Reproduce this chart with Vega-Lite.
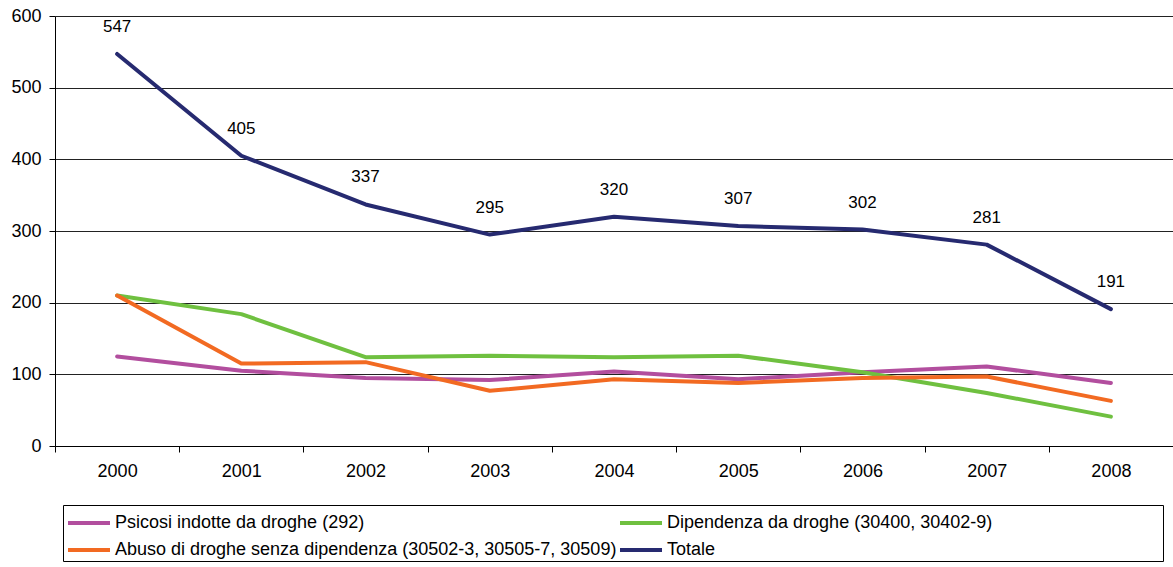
{
  "$schema": "https://vega.github.io/schema/vega-lite/v6.json",
  "width": 1118,
  "height": 430,
  "autosize": {"type": "none"},
  "padding": {"left": 55, "top": 16, "right": 0, "bottom": 121},
  "background": "white",
  "config": {
    "view": {"stroke": null},
    "font": "Liberation Sans",
    "axis": {"labelFont": "Liberation Sans", "labelFontSize": 18, "labelColor": "black", "domainColor": "black", "tickColor": "black"}
  },
  "data": {
    "values": [
      {"anno": "2000", "serie": "Psicosi indotte da droghe (292)", "valore": 125},
      {"anno": "2001", "serie": "Psicosi indotte da droghe (292)", "valore": 105},
      {"anno": "2002", "serie": "Psicosi indotte da droghe (292)", "valore": 95},
      {"anno": "2003", "serie": "Psicosi indotte da droghe (292)", "valore": 92},
      {"anno": "2004", "serie": "Psicosi indotte da droghe (292)", "valore": 104},
      {"anno": "2005", "serie": "Psicosi indotte da droghe (292)", "valore": 93},
      {"anno": "2006", "serie": "Psicosi indotte da droghe (292)", "valore": 103},
      {"anno": "2007", "serie": "Psicosi indotte da droghe (292)", "valore": 111},
      {"anno": "2008", "serie": "Psicosi indotte da droghe (292)", "valore": 88},
      {"anno": "2000", "serie": "Dipendenza da droghe (30400, 30402-9)", "valore": 210},
      {"anno": "2001", "serie": "Dipendenza da droghe (30400, 30402-9)", "valore": 184},
      {"anno": "2002", "serie": "Dipendenza da droghe (30400, 30402-9)", "valore": 124},
      {"anno": "2003", "serie": "Dipendenza da droghe (30400, 30402-9)", "valore": 126},
      {"anno": "2004", "serie": "Dipendenza da droghe (30400, 30402-9)", "valore": 124},
      {"anno": "2005", "serie": "Dipendenza da droghe (30400, 30402-9)", "valore": 126},
      {"anno": "2006", "serie": "Dipendenza da droghe (30400, 30402-9)", "valore": 103},
      {"anno": "2007", "serie": "Dipendenza da droghe (30400, 30402-9)", "valore": 74},
      {"anno": "2008", "serie": "Dipendenza da droghe (30400, 30402-9)", "valore": 41},
      {"anno": "2000", "serie": "Abuso di droghe senza dipendenza (30502-3, 30505-7, 30509)", "valore": 210},
      {"anno": "2001", "serie": "Abuso di droghe senza dipendenza (30502-3, 30505-7, 30509)", "valore": 115},
      {"anno": "2002", "serie": "Abuso di droghe senza dipendenza (30502-3, 30505-7, 30509)", "valore": 117},
      {"anno": "2003", "serie": "Abuso di droghe senza dipendenza (30502-3, 30505-7, 30509)", "valore": 77},
      {"anno": "2004", "serie": "Abuso di droghe senza dipendenza (30502-3, 30505-7, 30509)", "valore": 93},
      {"anno": "2005", "serie": "Abuso di droghe senza dipendenza (30502-3, 30505-7, 30509)", "valore": 88},
      {"anno": "2006", "serie": "Abuso di droghe senza dipendenza (30502-3, 30505-7, 30509)", "valore": 95},
      {"anno": "2007", "serie": "Abuso di droghe senza dipendenza (30502-3, 30505-7, 30509)", "valore": 97},
      {"anno": "2008", "serie": "Abuso di droghe senza dipendenza (30502-3, 30505-7, 30509)", "valore": 63},
      {"anno": "2000", "serie": "Totale", "valore": 547},
      {"anno": "2001", "serie": "Totale", "valore": 405},
      {"anno": "2002", "serie": "Totale", "valore": 337},
      {"anno": "2003", "serie": "Totale", "valore": 295},
      {"anno": "2004", "serie": "Totale", "valore": 320},
      {"anno": "2005", "serie": "Totale", "valore": 307},
      {"anno": "2006", "serie": "Totale", "valore": 302},
      {"anno": "2007", "serie": "Totale", "valore": 281},
      {"anno": "2008", "serie": "Totale", "valore": 191}
    ]
  },
  "encoding": {
    "x": {
      "field": "anno", "type": "ordinal", "title": null,
      "scale": {"type": "band", "paddingInner": 0, "paddingOuter": 0},
      "axis": {"labelAngle": 0, "tickBand": "extent", "tickSize": 6, "labelPadding": 10, "grid": false}
    },
    "y": {
      "field": "valore", "type": "quantitative", "title": null,
      "scale": {"domain": [0, 600], "nice": false},
      "axis": {"values": [0, 100, 200, 300, 400, 500, 600], "tickSize": 6, "labelPadding": 8, "grid": true, "gridColor": "#222222", "gridWidth": 1, "gridOpacity": 1}
    }
  },
  "layer": [
    {
      "mark": {"type": "line", "strokeWidth": 4, "strokeCap": "round", "strokeJoin": "round"},
      "encoding": {
        "color": {
          "field": "serie", "type": "nominal",
          "scale": {
            "domain": ["Psicosi indotte da droghe (292)", "Abuso di droghe senza dipendenza (30502-3, 30505-7, 30509)", "Dipendenza da droghe (30400, 30402-9)", "Totale"],
            "range": ["#B24E9E", "#F26A22", "#6FC040", "#262A70"]
          },
          "legend": {
            "title": "\u00a0",
            "titleOrient": "right",
            "titlePadding": 169,
            "titleFontSize": 18,
            "orient": "none",
            "legendX": 8,
            "legendY": 489,
            "columns": 2,
            "columnPadding": -8,
            "rowPadding": 2,
            "symbolType": "M-1.5,0H1.5",
            "symbolSize": 784,
            "symbolOffset": 8,
            "symbolStrokeWidth": 4,
            "labelFontSize": 18,
            "labelFont": "Liberation Sans",
            "labelColor": "black",
            "labelOffset": 10,
            "labelLimit": 0,
            "padding": 2,
            "strokeColor": "black",
            "fillColor": "white"
          }
        }
      }
    },
    {
      "transform": [{"filter": "datum.serie === 'Totale'"}],
      "mark": {"type": "text", "dy": -27, "fontSize": 17, "font": "Liberation Sans", "color": "black"},
      "encoding": {"text": {"field": "valore", "type": "quantitative"}}
    }
  ]
}
